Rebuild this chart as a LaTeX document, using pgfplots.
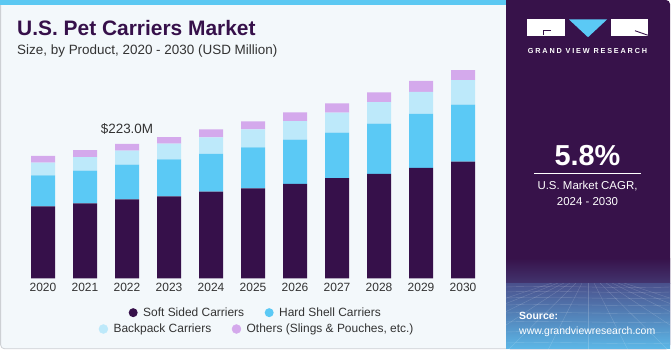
\documentclass[border=0pt]{standalone}
\usepackage{pgfplots}
\pgfplotsset{compat=1.18}
\usepackage{fontspec}
\setmainfont{Liberation Sans}
\newfontfamily\gvrfont[LetterSpace=25]{Liberation Sans}
\definecolor{soft}{RGB}{54,16,74}
\definecolor{hard}{RGB}{91,201,245}
\definecolor{backpack}{RGB}{189,233,250}
\definecolor{others}{RGB}{212,169,236}
\definecolor{panelbg}{RGB}{243,248,251}
\definecolor{panelborder}{RGB}{205,208,212}
\definecolor{topbar}{RGB}{91,200,242}
\definecolor{darkpanel}{RGB}{55,18,74}
\definecolor{textgray}{RGB}{51,51,51}
\definecolor{titlecol}{RGB}{54,16,74}
\definecolor{horizA}{RGB}{66,52,110}
\definecolor{horizB}{RGB}{74,80,140}
\definecolor{horizC}{RGB}{92,182,230}
\pgfplotsset{dotlegend/.style={legend image code/.code={\fill[#1] (0bp,0bp) circle (4.5bp);}}}
\begin{document}
\begin{tikzpicture}
\begin{scope}[x=1bp,y=1bp]
\path[use as bounding box] (0,0) rectangle (671,350);
% left panel
\fill[panelbg, draw=panelborder, line width=0.8bp, rounded corners=4bp] (0.6,1.2) rectangle (512,349.5);
\fill[topbar] (0,345) rectangle (506,350);
% right panel
\fill[darkpanel, rounded corners=4bp] (506,0.8) rectangle (670,350);
\fill[darkpanel] (506,0.8) rectangle (520,350);
\shade[top color=darkpanel, bottom color=horizA] (506,67) rectangle (670,92);
\shade[top color=horizB, bottom color=horizC] (506,2) rectangle (670,67);
\fill[horizC] (506,0.8) rectangle (670,2.5);
\begin{scope}
\clip (506,1) rectangle (670,67);
\foreach \i in {0,...,12} {
  \draw[white, opacity=0.18, line width=0.4bp] (588+\i*6-36,67) -- (588+\i*40-240,0);
}
\foreach \j/\y in {1/63,2/58,3/52,4/45,5/37,6/28,7/18,8/7} {
  \draw[white, opacity=0.18, line width=0.4bp] (506,\y) .. controls (560,\y+2) and (620,\y-2) .. (670,\y);
}
\end{scope}
% logo
\fill[white] (527.3,313.8) rectangle (565,330.5);
\draw[darkpanel, line width=0.9bp] (551,319.3) -- (543.3,319.3) -- (543.3,315.3);
\fill[hard] (569,330.5) -- (607,330.5) -- (588,312.8) -- cycle;
\fill[white] (611,313.8) rectangle (647.7,330.5);
\draw[darkpanel, line width=0.9bp] (635,319.3) -- (647.7,314.8);
\node[anchor=base, inner sep=0pt, text=white, font=\gvrfont\bfseries\fontsize{7.3}{8}\selectfont] at (587.5,296.8) {GRAND VIEW RESEARCH};
% CAGR
\node[anchor=base, inner sep=0pt, text=white, font=\bfseries\fontsize{29}{32}\selectfont] at (587.5,184.3) {5.8\%};
\draw[white, line width=1bp] (534.3,176.7) -- (640.7,176.7);
\node[anchor=base, inner sep=0pt, text=white, font=\fontsize{11.5}{13}\selectfont] at (587.5,160.3) {U.S. Market CAGR,};
\node[anchor=base, inner sep=0pt, text=white, font=\fontsize{11.5}{13}\selectfont] at (587.5,145) {2024 - 2030};
\node[anchor=base west, inner sep=0pt, text=white, font=\bfseries\fontsize{10.5}{12}\selectfont] at (519,30.3) {Source:};
\node[anchor=base west, inner sep=0pt, text=white, font=\fontsize{10.5}{12}\selectfont] at (519,16) {www.grandviewresearch.com};
% titles
\node[anchor=base west, inner sep=0pt, text=titlecol, font=\bfseries\fontsize{21}{24}\selectfont] at (17,314.3) {U.S. Pet Carriers Market};
\node[anchor=base west, inner sep=0pt, text=textgray, font=\fontsize{13.5}{16}\selectfont] at (17,296) {Size, by Product, 2020 - 2030 (USD Million)};
\end{scope}

\begin{axis}[
  at={(22bp,71.7bp)}, anchor=south west,
  scale only axis, width=462bp, height=210.8bp,
  xmin=-0.5, xmax=10.5, ymin=0, ymax=350,
  ybar stacked, bar width=24bp,
  axis line style={draw=none},
  ytick=\empty,
  xtick={0,1,2,3,4,5,6,7,8,9,10},
  xticklabels={2020,2021,2022,2023,2024,2025,2026,2027,2028,2029,2030},
  major tick length=0pt,
  xticklabel style={font=\fontsize{12}{14}\selectfont, text=textgray, anchor=north, inner sep=0pt, yshift=-4.4bp},
  clip=false,
  legend columns=-1,
  legend style={at={(0.2305,-0.163)}, anchor=west, draw=none, fill=none, inner sep=0pt,
    font=\fontsize{12}{14}\selectfont, text=textgray,
    nodes={inner sep=0pt},
    /tikz/every odd column/.append style={column sep=5.5bp},
    /tikz/every even column/.append style={column sep=20.5bp}},
]
\addplot[fill=soft, draw=none, dotlegend=soft] coordinates {(0,119.6) (1,124.5) (2,131.2) (3,136.2) (4,143.8) (5,149.4) (6,156.6) (7,166.5) (8,173.2) (9,183.2) (10,193.6)};
\addplot[fill=hard, draw=none, dotlegend=hard] coordinates {(0,51.5) (1,54.1) (2,57.5) (3,61.4) (4,62.6) (5,68.1) (6,73.6) (7,75.2) (8,83.5) (9,89.7) (10,94.6)};
\addplot[fill=backpack, draw=none, dotlegend=backpack] coordinates {(0,20.9) (1,22.7) (2,23.2) (3,25.9) (4,27.7) (5,29.9) (6,30.6) (7,33.2) (8,36.0) (9,36.5) (10,41.0)};
\addplot[fill=others, draw=none, dotlegend=others] coordinates {(0,11.1) (1,11.6) (2,11.1) (3,11.1) (4,13.3) (5,13.3) (6,14.9) (7,15.6) (8,16.1) (9,18.3) (10,16.6)};
\legend{Soft Sided Carriers, Hard Shell Carriers}
\node[anchor=base, inner sep=0pt, text=textgray, font=\fontsize{13.5}{16}\selectfont] at (axis cs:2,223) [yshift=10bp] {\$223.0M};
\end{axis}

\begin{axis}[
  at={(22bp,71.7bp)}, anchor=south west,
  scale only axis, width=462bp, height=210.8bp,
  xmin=0, xmax=1, ymin=0, ymax=1, hide axis,
  legend columns=-1,
  legend style={at={(0.1656,-0.2405)}, anchor=west, draw=none, fill=none, inner sep=0pt,
    font=\fontsize{12}{14}\selectfont, text=textgray,
    nodes={inner sep=0pt},
    /tikz/every odd column/.append style={column sep=5.5bp},
    /tikz/every even column/.append style={column sep=20.5bp}},
]
\addlegendimage{dotlegend=backpack}
\addlegendentry{Backpack Carriers}
\addlegendimage{dotlegend=others}
\addlegendentry{Others (Slings \& Pouches, etc.)}
\end{axis}
\end{tikzpicture}
\end{document}
